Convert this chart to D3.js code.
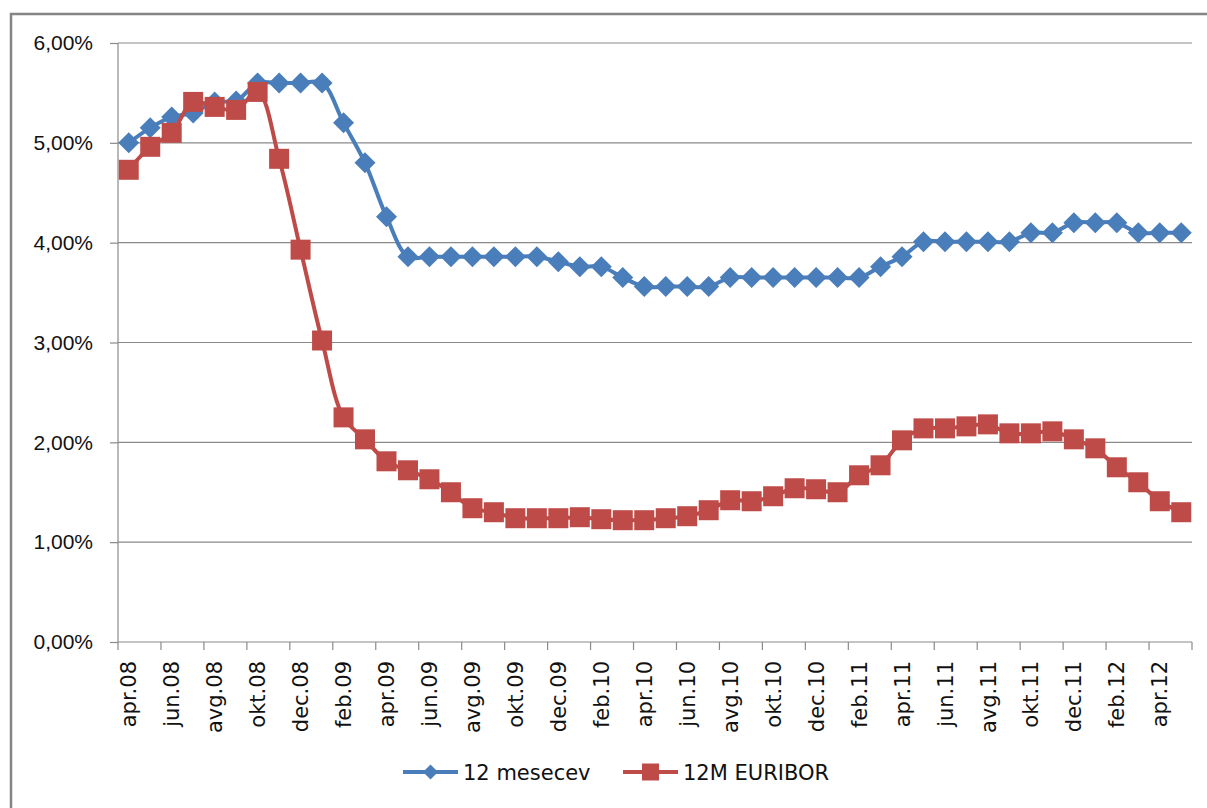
<!DOCTYPE html>
<html>
<head>
<meta charset="utf-8">
<script src="https://cdn.jsdelivr.net/npm/d3@7"></script>
<style>
  body { margin: 0; background: #fff; }
  svg { display: block; font-family: "DejaVu Sans", sans-serif; }
  .grid line { stroke: #8a8a8a; stroke-width: 1.2; }
  .axis path, .axis line { stroke: #8a8a8a; stroke-width: 1.2; }
  .axis text { fill: #111; }
</style>
</head>
<body>
<div id="wrapper"></div>
<script>
// months, apr.08 .. maj.12
const monthNames = ["jan", "feb", "mar", "apr", "maj", "jun", "jul", "avg", "sep", "okt", "nov", "dec"]
const months = []
for (let i = 0; i < 50; i++) {
  const m = (3 + i) % 12
  const y = 8 + Math.floor((3 + i) / 12)
  months.push(monthNames[m] + "." + String(y).padStart(2, "0"))
}

// 12 mesecev (%)
const mesecev = [
  5.00, 5.15, 5.26, 5.30, 5.41, 5.42, 5.60, 5.60, 5.60, 5.60,
  5.20, 4.80, 4.26, 3.86, 3.86, 3.86, 3.86, 3.86, 3.86, 3.86,
  3.81, 3.76, 3.76, 3.65, 3.56, 3.56, 3.56, 3.56, 3.65, 3.65,
  3.65, 3.65, 3.65, 3.65, 3.65, 3.76, 3.86, 4.01, 4.01, 4.01,
  4.01, 4.01, 4.10, 4.10, 4.20, 4.20, 4.20, 4.10, 4.10, 4.10,
]

// 12M EURIBOR (%)
const euribor = [
  4.73, 4.96, 5.10, 5.41, 5.36, 5.33, 5.51, 4.84, 3.93, 3.02,
  2.25, 2.03, 1.81, 1.72, 1.63, 1.50, 1.34, 1.30, 1.24, 1.24,
  1.24, 1.25, 1.23, 1.22, 1.22, 1.24, 1.26, 1.32, 1.42, 1.41,
  1.46, 1.54, 1.53, 1.50, 1.67, 1.77, 2.02, 2.14, 2.14, 2.16,
  2.18, 2.09, 2.09, 2.11, 2.03, 1.94, 1.75, 1.60, 1.41, 1.30,
]

const yTicks = [0, 1, 2, 3, 4, 5, 6]
const seriesNames = ["12 mesecev", "12M EURIBOR"]
const seriesColors = ["#4a7ebb", "#be4b48"]

function drawChart() {

  //..................................................
  // dimensions
  let dimensions = {
    width: 1207,
    height: 808,
    margin: { top: 43, right: 15, bottom: 166, left: 118 },
  }
  dimensions.boundedWidth = dimensions.width - dimensions.margin.left - dimensions.margin.right
  dimensions.boundedHeight = dimensions.height - dimensions.margin.top - dimensions.margin.bottom

  //..................................................
  // canvas
  const wrapper = d3.select("#wrapper")
    .append("svg")
      .attr("width", dimensions.width)
      .attr("height", dimensions.height)

  // outer chart frame (runs off the right and bottom of the picture)
  wrapper.append("rect")
      .attr("x", 11)
      .attr("y", 14)
      .attr("width", dimensions.width + 20)
      .attr("height", dimensions.height + 20)
      .attr("fill", "none")
      .attr("stroke", "#858585")
      .attr("stroke-width", 2.5)

  const bounds = wrapper.append("g")
      .attr("transform", `translate(${dimensions.margin.left}, ${dimensions.margin.top})`)

  //..................................................
  // scales
  const xScale = d3.scaleBand()
    .domain(months)
    .range([0, dimensions.boundedWidth])
    .padding(0)

  const yScale = d3.scaleLinear()
    .domain([0, 6])
    .range([dimensions.boundedHeight, 0])

  const xCenter = (d, i) => xScale(months[i]) + xScale.bandwidth() / 2

  const locale = d3.formatLocale({ decimal: ",", thousands: ".", grouping: [3], currency: ["", "€"] })
  const formatPct = d => locale.format(".2f")(d) + "%"

  //..................................................
  // peripherals
  bounds.append("g")
      .attr("class", "grid")
    .selectAll("line")
    .data(yTicks.filter(d => d > 0))
    .join("line")
      .attr("x1", 0)
      .attr("x2", dimensions.boundedWidth)
      .attr("y1", d => yScale(d))
      .attr("y2", d => yScale(d))

  const yAxis = bounds.append("g")
      .attr("class", "axis")
      .call(d3.axisLeft(yScale).tickValues(yTicks).tickFormat(formatPct).tickSize(8).tickPadding(17))
  yAxis.selectAll("text")
      .style("font-size", "21px")
  yAxis.select(".domain").attr("d", `M0,0V${dimensions.boundedHeight}`)

  // x axis: labels every second month, tick marks between pairs of months
  const xAxis = bounds.append("g")
      .attr("class", "axis")
      .attr("transform", `translate(0, ${dimensions.boundedHeight})`)

  xAxis.append("line")
      .attr("x1", 0)
      .attr("x2", dimensions.boundedWidth)

  const tickMonths = months.filter((d, i) => i % 2 == 0)
  xAxis.selectAll(".x-tick")
    .data([...tickMonths, null])
    .join("line")
      .attr("class", "x-tick")
      .attr("x1", d => d ? xScale(d) : dimensions.boundedWidth)
      .attr("x2", d => d ? xScale(d) : dimensions.boundedWidth)
      .attr("y1", 0)
      .attr("y2", 8)

  xAxis.selectAll(".x-label")
    .data(tickMonths)
    .join("text")
      .attr("class", "x-label")
      .attr("transform", d => `translate(${xScale(d) + xScale.bandwidth() / 2}, 19) rotate(-90)`)
      .attr("dy", "0.36em")
      .attr("text-anchor", "end")
      .style("font-size", "21px")
      .text(d => d)

  //..................................................
  // draw data
  const lineGenerator = d3.line()
    .x(xCenter)
    .y(d => yScale(d))
    .curve(d3.curveCatmullRom.alpha(0.5))

  const diamond = r => `M0,${-r}L${r},0L0,${r}L${-r},0Z`
  const square = r => `M${-r},${-r}H${r}V${r}H${-r}Z`
  const markers = [diamond(10.5), square(10)]

  ;[mesecev, euribor].forEach((series, s) => {
    bounds.append("path")
        .datum(series)
        .attr("d", lineGenerator)
        .attr("fill", "none")
        .attr("stroke", seriesColors[s])
        .attr("stroke-width", 4)
        .attr("stroke-linejoin", "round")

    bounds.append("g")
      .selectAll("path")
      .data(series)
      .join("path")
        .attr("transform", (d, i) => `translate(${xCenter(d, i)}, ${yScale(d)})`)
        .attr("d", markers[s])
        .attr("fill", seriesColors[s])
  })

  //..................................................
  // legend
  const legendItems = [
    { x: 403, textX: 463, marker: diamond(7.5) },
    { x: 623, textX: 683, marker: square(8.5) },
  ]
  const legend = wrapper.append("g")
      .attr("transform", "translate(0, 772)")

  legendItems.forEach((item, s) => {
    legend.append("line")
        .attr("x1", item.x)
        .attr("x2", item.x + 55)
        .attr("stroke", seriesColors[s])
        .attr("stroke-width", 4)
    legend.append("path")
        .attr("transform", `translate(${item.x + 27.5}, 0)`)
        .attr("d", item.marker)
        .attr("fill", seriesColors[s])
    legend.append("text")
        .attr("x", item.textX)
        .attr("dy", "0.36em")
        .style("font-size", "21px")
        .attr("fill", "#111")
        .text(seriesNames[s])
  })
}
drawChart()
</script>
</body>
</html>
